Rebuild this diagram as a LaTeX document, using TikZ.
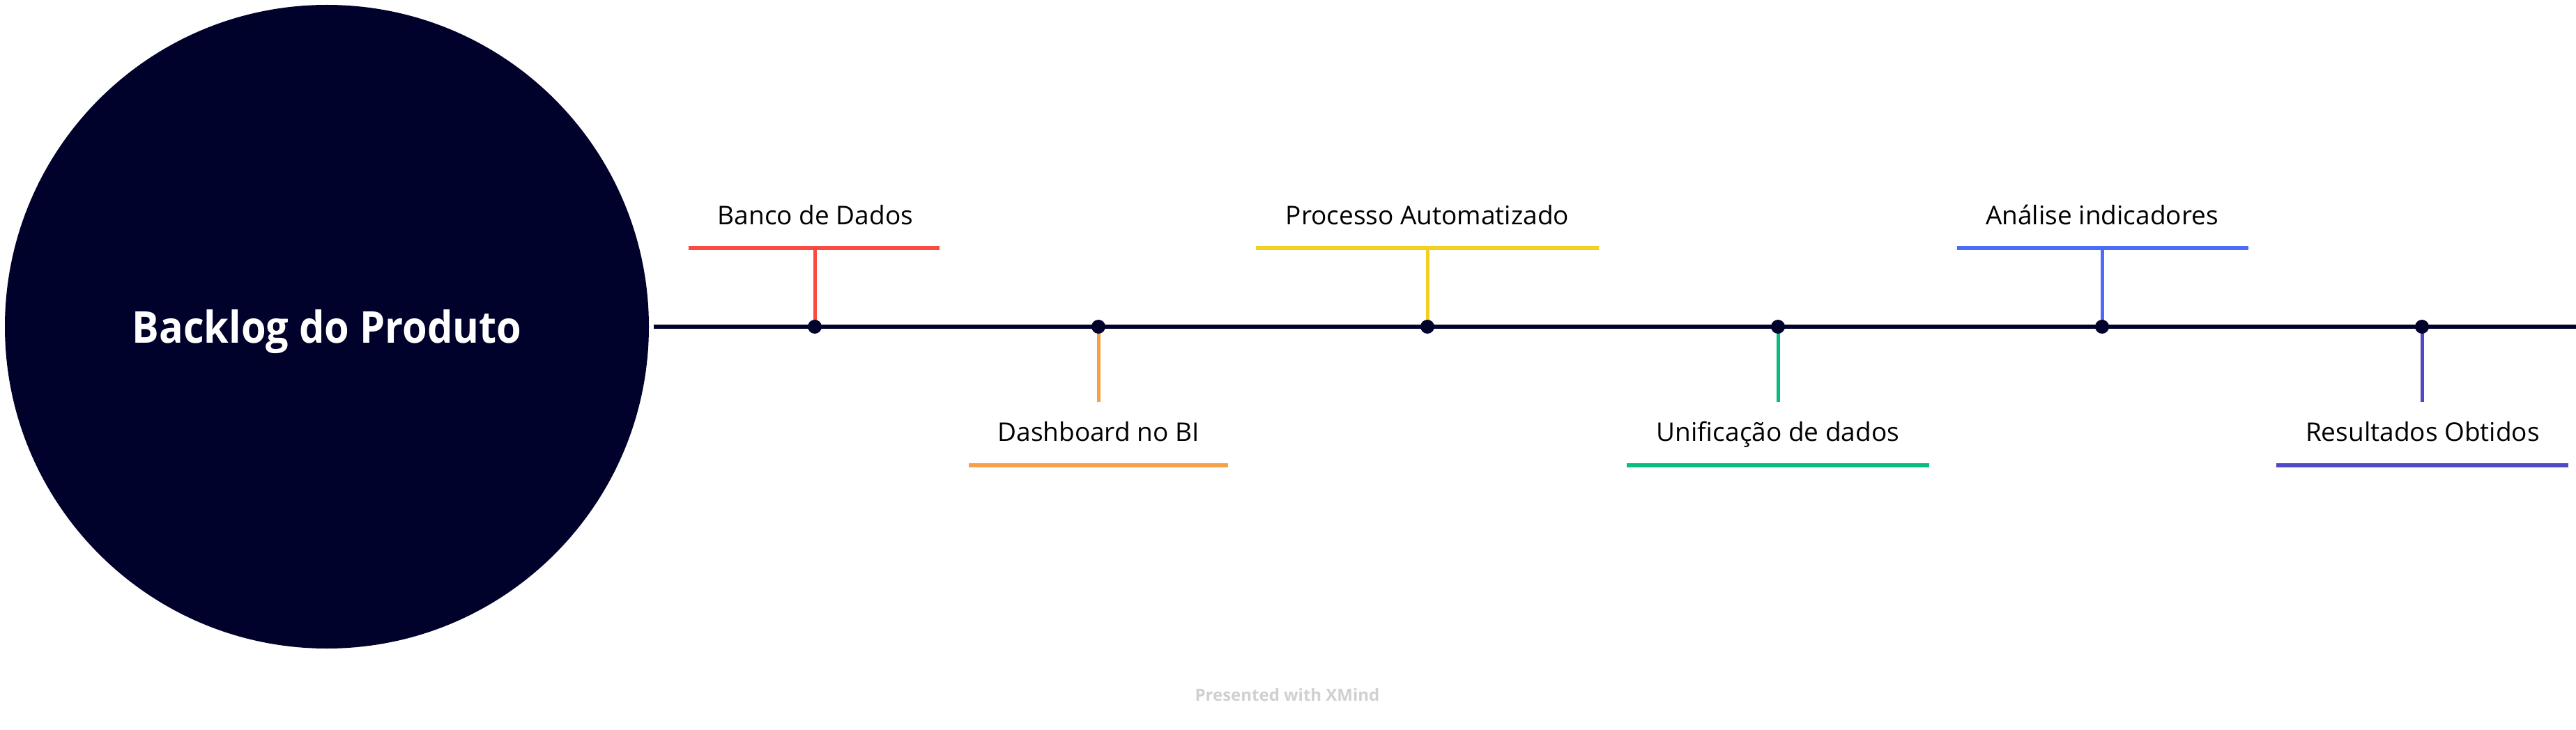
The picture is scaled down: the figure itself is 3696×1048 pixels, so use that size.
\documentclass[tikz,border=0pt]{standalone}
\usepackage{fontspec}
\setmainfont{Open Sans}
\newfontfamily\titlefont[FakeStretch=0.915]{Open Sans}
\definecolor{navy}{HTML}{01022B}
\definecolor{cred}{HTML}{FA4B42}
\definecolor{corange}{HTML}{F5A04B}
\definecolor{cyellow}{HTML}{F2D022}
\definecolor{cgreen}{HTML}{0ABC7E}
\definecolor{cblue}{HTML}{4A6CF7}
\definecolor{cpurple}{HTML}{4F4AC3}
\definecolor{wm}{HTML}{D0D0D0}
\begin{document}
\begin{tikzpicture}[x=1pt,y=-1pt,
  dot/.style={circle,fill=navy,inner sep=0pt,minimum size=20pt},
  lbl/.style={anchor=base,inner sep=0pt,text=black,font=\fontsize{37}{44}\selectfont},
  barline/.style={line width=5.5pt},
  stemline/.style={line width=5pt},
  axis/.style={line width=6pt,draw=navy}]
\useasboundingbox (0,0) rectangle (3696,1048);
% central topic
\node[circle,fill=navy,inner sep=0pt,minimum size=924pt] (root) at (469,469) {};
\node[anchor=base,inner sep=0pt,text=white,font=\titlefont\bfseries\fontsize{63}{70}\selectfont] (title) at (469,492) {Backlog do Produto};
% timeline
\coordinate (tlstart) at (938,469);
\coordinate (tlend) at (3696,469);
% bar coordinates (top items)
\coordinate (b1l) at (988,356);  \coordinate (b1m) at (1169,356); \coordinate (b1r) at (1348,356);
\coordinate (b3l) at (1802,356); \coordinate (b3m) at (2048,356); \coordinate (b3r) at (2294,356);
\coordinate (b5l) at (2808,356); \coordinate (b5m) at (3016,356); \coordinate (b5r) at (3226,356);
% bar coordinates (bottom items)
\coordinate (s2) at (1576,577); \coordinate (b2l) at (1390,668); \coordinate (b2r) at (1762,668);
\coordinate (s4) at (2551,577); \coordinate (b4l) at (2334,668); \coordinate (b4r) at (2768,668);
\coordinate (s6) at (3475,577); \coordinate (b6l) at (3266,668); \coordinate (b6r) at (3685,668);
% dot positions
\path (1169,469) coordinate (p1) (1576,469) coordinate (p2) (2048,469) coordinate (p3)
      (2551,469) coordinate (p4) (3016,469) coordinate (p5) (3475,469) coordinate (p6);
% stems
\draw[stemline,cred] (p1) -- (b1m);
\draw[stemline,cyellow] (p3) -- (b3m);
\draw[stemline,cblue] (p5) -- (b5m);
\draw[stemline,corange] (p2) -- (s2);
\draw[stemline,cgreen] (p4) -- (s4);
\draw[stemline,cpurple] (p6) -- (s6);
% bars
\draw[barline,cred] (b1l) -- (b1r);
\draw[barline,cyellow] (b3l) -- (b3r);
\draw[barline,cblue] (b5l) -- (b5r);
\draw[barline,corange] (b2l) -- (b2r);
\draw[barline,cgreen] (b4l) -- (b4r);
\draw[barline,cpurple] (b6l) -- (b6r);
% axis
\draw[axis] (tlstart) -- (tlend);
% dots
\foreach \i in {1,...,6} { \node[dot] (d\i) at (p\i) {}; }
% labels
\node[lbl] (l1) at (1170,323) {Banco de Dados};
\node[lbl] (l3) at (2048,323) {Processo Automatizado};
\node[lbl] (l5) at (3016,323) {Análise indicadores};
\node[lbl] (l2) at (1576,633) {Dashboard no BI};
\node[lbl] (l4) at (2551,633) {Unificação de dados};
\node[lbl] (l6) at (3476,633) {Resultados Obtidos};
% watermark
\node[anchor=base,inner sep=0pt,text=wm,font=\bfseries\fontsize{24}{28}\selectfont] (wmark) at (1847,1006) {Presented with XMind};
\end{tikzpicture}
\end{document}
